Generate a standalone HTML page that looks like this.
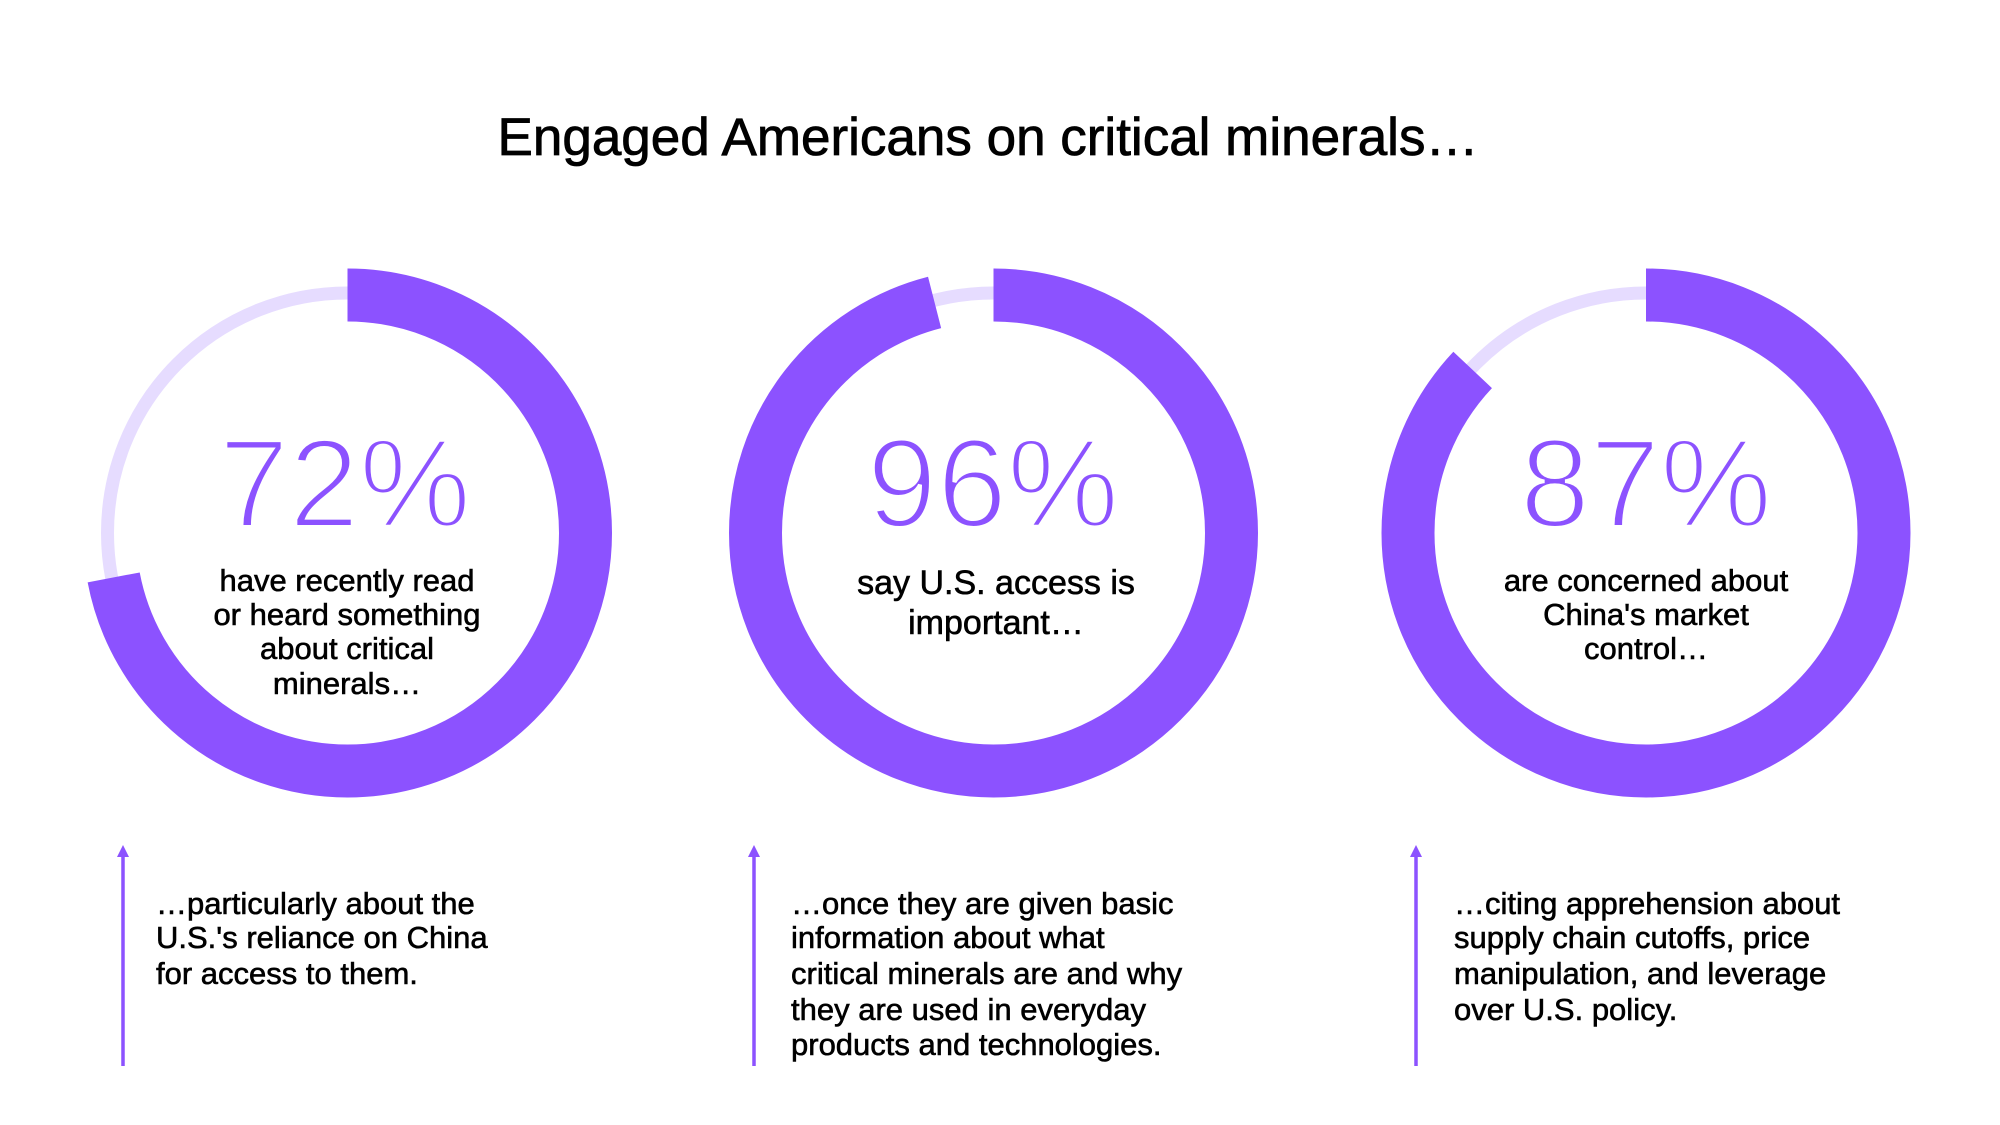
<!DOCTYPE html>
<html><head><meta charset="utf-8"><style>
html,body{margin:0;padding:0;background:#fff;}
svg{display:block;}
text{font-family:"Liberation Sans",sans-serif;}
</style></head><body>
<svg width="2000" height="1125" viewBox="0 0 2000 1125" xmlns="http://www.w3.org/2000/svg">
<rect width="2000" height="1125" fill="#fff"/>
<text x="988" y="155" font-size="53" text-anchor="middle" fill="#000" stroke="#000" stroke-width="0.8">Engaged Americans on critical minerals…</text>

<g fill="none">
 <circle cx="347.5" cy="533" r="240" stroke="#e6dcff" stroke-width="13"/>
 <circle cx="347.5" cy="533" r="238" stroke="#8c52ff" stroke-width="53" stroke-dasharray="1076.7 2000" transform="rotate(-90 347.5 533)"/>
 <circle cx="993.5" cy="533" r="240" stroke="#e6dcff" stroke-width="13"/>
 <circle cx="993.5" cy="533" r="238" stroke="#8c52ff" stroke-width="53" stroke-dasharray="1435.6 2000" transform="rotate(-90 993.5 533)"/>
 <circle cx="1646" cy="533" r="240" stroke="#e6dcff" stroke-width="13"/>
 <circle cx="1646" cy="533" r="238" stroke="#8c52ff" stroke-width="53" stroke-dasharray="1301 2000" transform="rotate(-90 1646 533)"/>
</g>

<g font-size="126" fill="#8c52ff" stroke="#fff" stroke-width="4" text-anchor="middle">
 <text x="345" y="527">72%</text>
 <text x="993" y="527">96%</text>
 <text x="1646" y="527">87%</text>
</g>

<g font-size="31" fill="#000" stroke="#000" stroke-width="0.6" text-anchor="middle">
 <text x="347" y="591">have recently read</text>
 <text x="347" y="625">or heard something</text>
 <text x="347" y="659">about critical</text>
 <text x="347" y="694">minerals…</text>
 <text x="996" y="594" font-size="34">say U.S. access is</text>
 <text x="996" y="634" font-size="34">important…</text>
 <text x="1646" y="591">are concerned about</text>
 <text x="1646" y="625">China's market</text>
 <text x="1646" y="659">control…</text>
</g>

<g stroke="#8c52ff" stroke-width="3.5">
 <line x1="123" y1="852" x2="123" y2="1066"/>
 <line x1="754" y1="852" x2="754" y2="1066"/>
 <line x1="1416" y1="852" x2="1416" y2="1066"/>
</g>
<g fill="#8c52ff">
 <polygon points="123,845 117,857 129,857"/>
 <polygon points="754,845 748,857 760,857"/>
 <polygon points="1416,845 1410,857 1422,857"/>
</g>

<g font-size="31" fill="#000" stroke="#000" stroke-width="0.6">
 <text x="156" y="914">…particularly about the</text>
 <text x="156" y="948">U.S.'s reliance on China</text>
 <text x="156" y="984">for access to them.</text>
 <text x="791" y="914">…once they are given basic</text>
 <text x="791" y="948">information about what</text>
 <text x="791" y="984">critical minerals are and why</text>
 <text x="791" y="1020">they are used in everyday</text>
 <text x="791" y="1055">products and technologies.</text>
 <text x="1454" y="914">…citing apprehension about</text>
 <text x="1454" y="948">supply chain cutoffs, price</text>
 <text x="1454" y="984">manipulation, and leverage</text>
 <text x="1454" y="1020">over U.S. policy.</text>
</g>
</svg>
</body></html>
